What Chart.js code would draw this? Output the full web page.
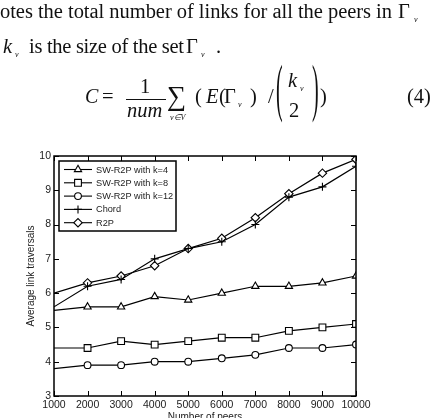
<!DOCTYPE html>
<html>
<head>
<meta charset="utf-8">
<script src="https://cdn.jsdelivr.net/npm/chart.js@4/dist/chart.umd.min.js"></script>
<style>
  html, body { margin: 0; padding: 0; background: #fff; overflow: hidden; }
  #wrap { position: relative; width: 432px; height: 418px; }
  #chart { position: absolute; left: 0; top: 0; }
  #text { position: absolute; left: 0; top: 0; }
  #text text { font-family: "Liberation Serif", "Times New Roman", serif; fill: #111; }
  #text .it { font-style: italic; }
</style>
</head>
<body>
<div id="wrap">
  <canvas id="chart" width="432" height="425"></canvas>
  <svg id="text" width="432" height="140" xmlns="http://www.w3.org/2000/svg">
    <text x="0" y="18" font-size="20.5" textLength="392" lengthAdjust="spacing">otes the total number of links for all the peers in</text>
    <text x="398" y="18" font-size="20.5">Γ</text>
    <text x="414" y="22" font-size="8" class="it">v</text>

    <text x="3" y="53" font-size="20.5" class="it">k</text>
    <text x="15" y="57" font-size="8" class="it">v</text>
    <text x="29" y="53" font-size="20.5" textLength="155" lengthAdjust="spacing">is the size of the set</text>
    <text x="186" y="53" font-size="20.5">Γ</text>
    <text x="201" y="57" font-size="8" class="it">v</text>
    <text x="216" y="53" font-size="20.5">.</text>

    <text x="85" y="103" font-size="20" class="it">C</text>
    <text x="102" y="103" font-size="20.5">=</text>
    <text x="140" y="93" font-size="20.5">1</text>
    <line x1="126" y1="99.5" x2="166" y2="99.5" stroke="#111" stroke-width="1"/>
    <text x="127" y="117" font-size="20.5" class="it">num</text>
    <text x="167" y="105" font-size="27">∑</text>
    <text x="170" y="120" font-size="8" class="it">v∈V</text>
    <text x="195" y="103" font-size="20.5">(</text>
    <text x="206" y="103" font-size="20.5" class="it">E</text>
    <text x="219" y="103" font-size="20.5">(</text>
    <text x="224" y="103" font-size="20.5">Γ</text>
    <text x="238" y="107" font-size="8" class="it">v</text>
    <text x="250" y="103" font-size="20.5">)</text>
    <text x="268" y="103" font-size="20.5">/</text>
    <text x="276" y="34.2" font-size="20" transform="scale(1,3.2)">(</text>
    <text x="288" y="87" font-size="20.5" class="it">k</text>
    <text x="300" y="91" font-size="8" class="it">v</text>
    <text x="289" y="117" font-size="20.5">2</text>
    <text x="312" y="34.2" font-size="20" transform="scale(1,3.2)">)</text>
    <text x="320" y="103" font-size="20.5">)</text>
    <text x="407" y="103" font-size="20.5">(4)</text>
  </svg>
</div>
<script>
const peers = [1000, 2000, 3000, 4000, 5000, 6000, 7000, 8000, 9000, 10000];
const swK4  = [5.5, 5.6, 5.6, 5.9, 5.8, 6.0, 6.2, 6.2, 6.3, 6.5];
const swK8  = [4.4, 4.4, 4.6, 4.5, 4.6, 4.7, 4.7, 4.9, 5.0, 5.1];
const swK12 = [3.8, 3.9, 3.9, 4.0, 4.0, 4.1, 4.2, 4.4, 4.4, 4.5];
const chord = [5.6, 6.2, 6.4, 7.0, 7.3, 7.5, 8.0, 8.8, 9.1, 9.7];
const r2p   = [6.0, 6.3, 6.5, 6.8, 7.3, 7.6, 8.2, 8.9, 9.5, 9.9];
const seriesNames = ['SW-R2P with k=4', 'SW-R2P with k=8', 'SW-R2P with k=12', 'Chord', 'R2P'];
const markers = ['triangle', 'rect', 'circle', 'cross', 'rectRot'];
const markerSize = [4.2, 4.8, 3.4, 4, 4.2];

const FONT = '"Liberation Sans", Arial, sans-serif';
const INK = '#222';

function series(name, values, i) {
  return {
    label: name,
    data: peers.map((p, j) => ({ x: p, y: values[j] })),
    borderColor: '#000',
    borderWidth: 1.2,
    pointStyle: markers[i],
    pointRadius: c => c.dataIndex === 0 ? 0 : markerSize[i],
    pointBorderColor: '#000',
    pointBackgroundColor: '#fff',
    pointBorderWidth: 1.1,
    tension: 0
  };
}

// frame with inward ticks on all four sides
const frame = {
  id: 'frame',
  afterDatasetsDraw(chart) {
    const { ctx, chartArea: a, scales: { x, y } } = chart;
    ctx.save();
    ctx.strokeStyle = '#000';
    ctx.lineWidth = 1.5;
    ctx.strokeRect(a.left, a.top, a.right - a.left, a.bottom - a.top);
    ctx.lineWidth = 1;
    ctx.beginPath();
    x.ticks.forEach(t => {
      const px = Math.round(x.getPixelForValue(t.value)) + 0.5;
      ctx.moveTo(px, a.bottom); ctx.lineTo(px, a.bottom - 5);
      ctx.moveTo(px, a.top); ctx.lineTo(px, a.top + 5);
    });
    y.ticks.forEach(t => {
      const py = Math.round(y.getPixelForValue(t.value)) + 0.5;
      ctx.moveTo(a.left, py); ctx.lineTo(a.left + 5, py);
      ctx.moveTo(a.right, py); ctx.lineTo(a.right - 5, py);
    });
    ctx.stroke();
    ctx.restore();
  }
};

// legend box inside the plot, upper left
const boxLegend = {
  id: 'boxLegend',
  afterDraw(chart) {
    const { ctx, chartArea: a } = chart;
    const left = a.left + 5, top = a.top + 5, w = 117, h = 70, row = 13.3;
    ctx.save();
    ctx.fillStyle = '#fff';
    ctx.fillRect(left, top, w, h);
    ctx.strokeStyle = '#000';
    ctx.lineWidth = 1.5;
    ctx.strokeRect(left, top, w, h);
    ctx.font = '9.2px ' + FONT;
    ctx.textBaseline = 'middle';
    chart.data.datasets.forEach((ds, i) => {
      const cy = top + 8.5 + i * row;
      ctx.strokeStyle = '#000';
      ctx.lineWidth = 1.1;
      ctx.beginPath();
      ctx.moveTo(left + 5, cy); ctx.lineTo(left + 33, cy);
      ctx.stroke();
      ctx.fillStyle = '#fff';
      Chart.helpers.drawPoint(ctx, { pointStyle: markers[i], radius: markerSize[i], borderWidth: 1.1 }, left + 19, cy);
      ctx.fillStyle = INK;
      ctx.fillText(ds.label, left + 37, cy + 0.5);
    });
    ctx.restore();
  }
};

new Chart(document.getElementById('chart'), {
  type: 'line',
  data: {
    datasets: [
      series(seriesNames[0], swK4, 0),
      series(seriesNames[1], swK8, 1),
      series(seriesNames[2], swK12, 2),
      series(seriesNames[3], chord, 3),
      series(seriesNames[4], r2p, 4)
    ]
  },
  options: {
    responsive: false,
    animation: false,
    layout: { padding: { top: 156, right: 76, left: 0, bottom: 0 } },
    plugins: { legend: { display: false }, tooltip: { enabled: false } },
    scales: {
      x: {
        type: 'linear', min: 1000, max: 10000,
        grid: { display: false, drawTicks: false }, border: { display: false },
        ticks: { stepSize: 1000, padding: 3, autoSkip: false, color: INK, font: { family: FONT, size: 10.5 }, maxRotation: 0, callback: v => String(v) },
        title: { display: true, text: 'Number of peers', color: INK, font: { family: FONT, size: 10 }, padding: { top: 0, bottom: 2 } },
        afterFit(s) { s.height = 29; }
      },
      y: {
        type: 'linear', min: 3, max: 10,
        grid: { display: false, drawTicks: false }, border: { display: false },
        ticks: { stepSize: 1, padding: 3, color: INK, font: { family: FONT, size: 10.5 } },
        title: { display: true, text: 'Average link traversals', color: INK, font: { family: FONT, size: 10 }, padding: { top: 25, bottom: 0 } },
        afterFit(s) { s.width = 54; }
      }
    }
  },
  plugins: [frame, boxLegend]
});
</script>
</body>
</html>
